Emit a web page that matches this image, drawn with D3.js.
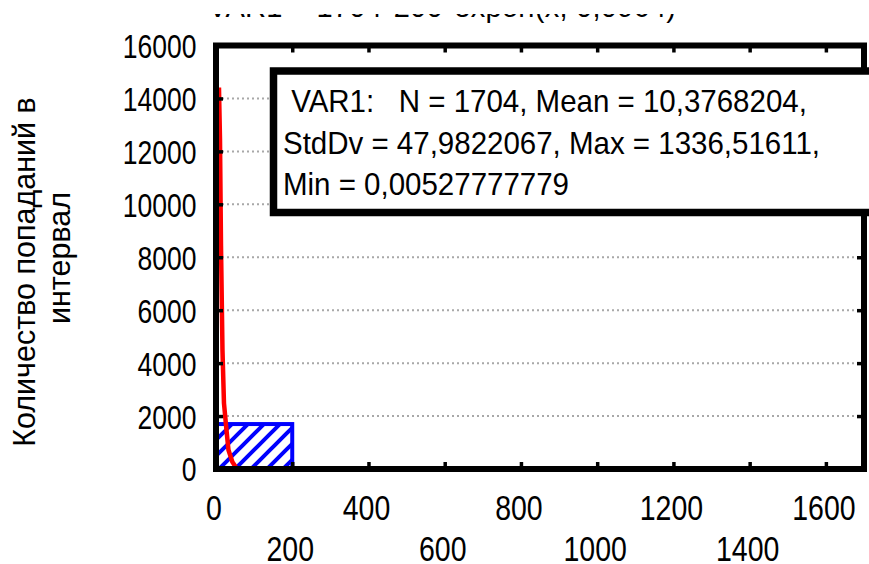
<!DOCTYPE html>
<html><head><meta charset="utf-8">
<script src="https://cdn.jsdelivr.net/npm/d3@7"></script>
<style>
body{margin:0;background:#fff}
svg{display:block}
text{font-family:"Liberation Sans",Arial,sans-serif;fill:#000}
</style>
</head><body>
<svg id="chart" width="869" height="564"></svg>
<script>
// Histogram of VAR1 with a fitted exponential curve
const binStarts = [0, 200, 400, 600, 800, 1000, 1200, 1400, 1600];
const binCounts = [1698, 4, 1, 0, 0, 0, 1, 0, 0];
const binWidth = 200;
const fitX = [7.8, 10.5, 13.1, 17, 20.9, 27.5, 32.7, 43, 53.6];
const fitY = [14415, 12415, 8453, 4490, 2490, 1472, 717, 264, 38];
const xTicks = [0, 200, 400, 600, 800, 1000, 1200, 1400, 1600];
const yTicks = [0, 2000, 4000, 6000, 8000, 10000, 12000, 14000, 16000];
const gridValues = [2000, 4000, 6000, 8000, 10000, 12000, 14000];
const titleText = "VAR1 = 1704*200*expon(x; 0,0964)";
const statsLines = [
  " VAR1:   N = 1704, Mean = 10,3768204,",
  "StdDv = 47,9822067, Max = 1336,51611,",
  "Min = 0,00527777779"
];
const yTitleLines = ["Количество попаданий в", "интервал"];

const svg = d3.select("#chart");
const x = d3.scaleLinear().domain([0, 1700]).range([216, 864]);
const y = d3.scaleLinear().domain([0, 16000]).range([469, 45.5]);

const defs = svg.append("defs");
const pat = defs.append("pattern")
  .attr("id", "hatch").attr("patternUnits", "userSpaceOnUse")
  .attr("width", 16).attr("height", 16);
pat.append("path")
  .attr("d", "M-4,4 L4,-4 M0,16 L16,0 M12,20 L20,12")
  .attr("stroke", "#0000ff").attr("stroke-width", 4);

defs.append("clipPath").attr("id", "titleClip")
  .append("rect").attr("x", 0).attr("y", 14).attr("width", 869).attr("height", 16);

// Title (only its lower edge lies inside the page)
svg.append("text")
  .attr("clip-path", "url(#titleClip)")
  .append("tspan")
  .attr("x", 208).attr("y", 17)
  .attr("font-size", 29)
  .attr("textLength", 468).attr("lengthAdjust", "spacing")
  .text(titleText);

// Dotted horizontal gridlines
svg.append("g").selectAll("line").data(gridValues).join("line")
  .attr("x1", 222).attr("x2", 860)
  .attr("y1", d => y(d)).attr("y2", d => y(d))
  .attr("stroke", "#a8a8a8").attr("stroke-width", 2)
  .attr("stroke-dasharray", "2 3");

// Histogram bars
svg.append("g").selectAll("rect")
  .data(binStarts.map((s, i) => ({s, c: binCounts[i]})).filter(d => d.c > 0))
  .join("rect")
  .attr("x", d => x(d.s))
  .attr("y", d => y(d.c))
  .attr("width", d => x(d.s + binWidth) - x(d.s))
  .attr("height", d => y(0) - y(d.c))
  .attr("fill", "url(#hatch)")
  .attr("stroke", "#0000ff").attr("stroke-width", 4);

// Fitted curve
svg.append("path")
  .datum(fitX.map((v, i) => [v, fitY[i]]))
  .attr("d", d3.line().x(d => x(d[0])).y(d => y(d[1])))
  .attr("fill", "none").attr("stroke", "#ff0000").attr("stroke-width", 4.5);

// Plot frame
svg.append("rect")
  .attr("x", x(0)).attr("y", y(16000))
  .attr("width", x(1700) - x(0)).attr("height", y(0) - y(16000))
  .attr("fill", "none").attr("stroke", "#000").attr("stroke-width", 6);

// Bottom axis: inward ticks, labels on two alternating rows
const gx = svg.append("g").attr("transform", `translate(0,${y(0)})`)
  .call(d3.axisBottom(x).tickValues(xTicks).tickSizeInner(-7).tickSizeOuter(0).tickFormat(d3.format("d")));
gx.select(".domain").remove();
gx.selectAll(".tick line").attr("stroke", "#000").attr("stroke-width", 3.5);
gx.selectAll(".tick").filter(d => d === 0).select("line").remove();
gx.selectAll(".tick text")
  .attr("font-size", 28.5).attr("fill", "#000")
  .attr("y", 0).attr("dy", 0).attr("dx", -2.5)
  .attr("transform", (d, i) => `translate(0,${i % 2 === 0 ? 51 : 92}) scale(1,1.2)`);
gx.attr("font-family", null).attr("font-size", null);

// Top axis ticks
const gt = svg.append("g").attr("transform", `translate(0,${y(16000)})`)
  .call(d3.axisTop(x).tickValues(xTicks.filter(d => d > 0)).tickSizeInner(-7).tickSizeOuter(0).tickFormat(""));
gt.select(".domain").remove();
gt.selectAll(".tick line").attr("stroke", "#000").attr("stroke-width", 3.5);

// Left axis
const gy = svg.append("g").attr("transform", `translate(${x(0)},0)`)
  .call(d3.axisLeft(y).tickValues(yTicks).tickSizeInner(-7).tickSizeOuter(0).tickPadding(19.5).tickFormat(d3.format("d")));
gy.select(".domain").remove();
gy.selectAll(".tick line").attr("stroke", "#000").attr("stroke-width", 3.5);
gy.selectAll(".tick").filter(d => d === 0 || d === 16000).select("line").remove();
gy.selectAll(".tick text")
  .attr("font-size", 26.5).attr("fill", "#000")
  .attr("dy", "0.36em")
  .attr("transform", "scale(1,1.25)");
gy.attr("font-family", null).attr("font-size", null);

// Right axis ticks
const gr = svg.append("g").attr("transform", `translate(${x(1700)},0)`)
  .call(d3.axisRight(y).tickValues(gridValues).tickSizeInner(-7).tickSizeOuter(0).tickFormat(""));
gr.select(".domain").remove();
gr.selectAll(".tick line").attr("stroke", "#000").attr("stroke-width", 3.5);

// Statistics box
svg.append("rect")
  .attr("x", 273.5).attr("y", 71).attr("width", 700).attr("height", 141.5)
  .attr("fill", "#fff").attr("stroke", "#000").attr("stroke-width", 7.5);
svg.append("g").selectAll("text").data(statsLines).join("text")
  .attr("x", 283)
  .attr("transform", (d, i) => `translate(0,${112 + i * 41.5}) scale(1,1.06)`)
  .attr("font-size", 29.5)
  .style("white-space", "pre")
  .text(d => d);

// Y axis title
svg.append("g").selectAll("text").data(yTitleLines).join("text")
  .attr("transform", (d, i) => `translate(${i === 0 ? 35 : 70},${i === 0 ? 272 : 258}) rotate(-90)`)
  .attr("text-anchor", "middle")
  .attr("font-size", 30.5)
  .text(d => d);
</script>
</body></html>
